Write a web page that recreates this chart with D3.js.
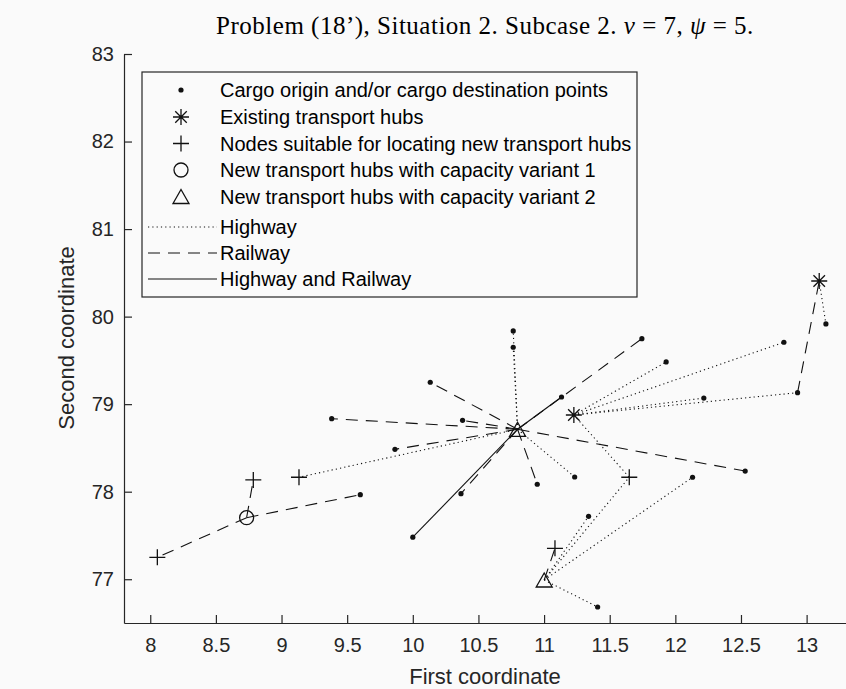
<!DOCTYPE html>
<html>
<head>
<meta charset="utf-8">
<script src="https://cdn.jsdelivr.net/npm/d3@7"></script>
<style>
  html, body { margin: 0; padding: 0; background: #fafafa; }
  svg { display: block; }
  .tick text { font-family: "Liberation Sans", Arial, sans-serif; font-size: 20px; fill: #262626; }
</style>
</head>
<body>
<div id="chart"></div>
<script>
// Problem (18'), situation 2, subcase 2 - transport network layout
const width = 846, height = 689;

// cargo origin / destination points
const cargoX = [10.765, 10.765, 10.133, 9.382, 10.379, 9.864, 11.133, 9.6, 10.948, 11.233, 10.367,
                12.131, 11.339, 11.408, 11.745, 11.93, 12.827, 13.147, 12.931, 12.217, 12.532, 10.0];
const cargoY = [79.836, 79.65, 79.25, 78.834, 78.815, 78.484, 79.082, 77.966, 78.085, 78.168, 77.977,
                78.165, 77.719, 76.683, 79.748, 79.482, 79.707, 79.916, 79.131, 79.07, 78.236, 77.48];

// existing hubs (asterisks)
const hubX = [11.227, 13.096];
const hubY = [78.876, 80.407];

// nodes suitable for new hubs (plus)
const nodeX = [8.054, 8.785, 9.133, 11.649, 11.083];
const nodeY = [77.25, 78.134, 78.165, 78.165, 77.353];

// new hubs, capacity variant 1 (circle) and variant 2 (triangle)
const newHub1X = [8.734];
const newHub1Y = [77.703];
const newHub2X = [10.798, 11.001];
const newHub2Y = [78.713, 76.991];

// links [x1, y1, x2, y2]
const highway = [
  [10.798, 78.713, 10.765, 79.836],
  [10.798, 78.713, 10.765, 79.65],
  [10.798, 78.713, 9.133, 78.165],
  [10.798, 78.713, 11.233, 78.168],
  [11.227, 78.876, 11.93, 79.482],
  [11.227, 78.876, 12.827, 79.707],
  [11.227, 78.876, 12.217, 79.07],
  [11.227, 78.876, 12.931, 79.131],
  [11.227, 78.876, 11.649, 78.165],
  [13.096, 80.407, 13.147, 79.916],
  [11.001, 76.991, 11.339, 77.719],
  [11.001, 76.991, 11.649, 78.165],
  [11.001, 76.991, 12.131, 78.165],
  [11.001, 76.991, 11.408, 76.683]
];
const railway = [
  [10.798, 78.713, 9.382, 78.834],
  [10.798, 78.713, 10.133, 79.25],
  [10.798, 78.713, 10.379, 78.815],
  [10.798, 78.713, 9.864, 78.484],
  [10.798, 78.713, 10.948, 78.085],
  [10.798, 78.713, 10.367, 77.977],
  [10.798, 78.713, 11.745, 79.748],
  [10.798, 78.713, 12.532, 78.236],
  [12.931, 79.131, 13.096, 80.407],
  [8.734, 77.703, 8.054, 77.25],
  [8.734, 77.703, 9.6, 77.966],
  [8.734, 77.703, 8.785, 78.134],
  [11.001, 76.991, 11.083, 77.353]
];
const bothWays = [
  [10.798, 78.713, 10.0, 77.48],
  [10.798, 78.713, 11.133, 79.082]
];

const xTicks = d3.range(8, 13.01, 0.5);
const yTicks = [77, 78, 79, 80, 81, 82, 83];

const legendLabels = [
  "Cargo origin and/or cargo destination points",
  "Existing transport hubs",
  "Nodes suitable for locating new transport hubs",
  "New transport hubs with capacity variant 1",
  "New transport hubs with capacity variant 2",
  "Highway",
  "Railway",
  "Highway and Railway"
];

const ink = "#111";
const axisCol = "#262626";
const dotted = "1.2,3.1";
const dashed = "12,8";

const svg = d3.select("#chart").append("svg").attr("width", width).attr("height", height);

const x = d3.scaleLinear().domain([7.8, 13.3]).range([124, 846]);
const y = d3.scaleLinear().domain([76.5, 83]).range([623, 54]);

// axes (ticks point inwards, no box)
svg.append("g").attr("transform", `translate(0,623)`)
  .call(d3.axisBottom(x).tickValues(xTicks).tickSizeInner(-8).tickSizeOuter(0).tickPadding(15).tickFormat(d => d))
  .call(g => g.selectAll("path,line").attr("stroke", axisCol).attr("stroke-width", 1.2));
svg.append("g").attr("transform", `translate(124,0)`)
  .call(d3.axisLeft(y).tickValues(yTicks).tickSizeInner(-8).tickSizeOuter(0).tickPadding(10).tickFormat(d => d))
  .call(g => g.selectAll("path,line").attr("stroke", axisCol).attr("stroke-width", 1.2));

svg.append("text").attr("x", 485).attr("y", 684).attr("text-anchor", "middle")
  .style("font-family", "Liberation Sans, Arial, sans-serif").style("font-size", "22px").attr("fill", axisCol)
  .text("First coordinate");
svg.append("text").attr("transform", "translate(74,338) rotate(-90)").attr("text-anchor", "middle")
  .style("font-family", "Liberation Sans, Arial, sans-serif").style("font-size", "22px").attr("fill", axisCol)
  .text("Second coordinate");

const title = svg.append("text").attr("x", 485).attr("y", 34).attr("text-anchor", "middle")
  .style("font-family", "Liberation Serif, serif").style("font-size", "25px")
  .style("letter-spacing", "0.5px").attr("fill", "#000");
title.append("tspan").text("Problem (18’), Situation 2. Subcase 2. ");
title.append("tspan").style("font-style", "italic").text("ν");
title.append("tspan").text(" = 7, ");
title.append("tspan").style("font-style", "italic").text("ψ");
title.append("tspan").text(" = 5.");

// links
function drawLinks(data, dash) {
  svg.append("g").selectAll("line").data(data).join("line")
    .attr("x1", d => x(d[0])).attr("y1", d => y(d[1]))
    .attr("x2", d => x(d[2])).attr("y2", d => y(d[3]))
    .attr("stroke", ink).attr("stroke-width", 1.1)
    .attr("stroke-dasharray", dash);
}
drawLinks(highway, dotted);
drawLinks(railway, dashed);
drawLinks(bothWays, null);

// marker shapes
const plusPath = s => `M${-s},0H${s}M0,${-s}V${s}`;
const starPath = s => { const k = s * 0.72; return `M${-s},0H${s}M0,${-s}V${s}M${-k},${-k}L${k},${k}M${-k},${k}L${k},${-k}`; };
const triPath = (w, h) => `M0,${-h}L${w},${h}L${-w},${h}Z`;

function markers(xs, ys, draw) {
  const g = svg.append("g");
  xs.forEach((v, i) => draw(g.append("g").attr("transform", `translate(${x(v)},${y(ys[i])})`)));
}
const dot = g => g.append("circle").attr("r", 2.6).attr("fill", ink);
const star = g => g.append("path").attr("d", starPath(8)).attr("stroke", ink).attr("stroke-width", 1.3).attr("fill", "none");
const plus = g => g.append("path").attr("d", plusPath(8)).attr("stroke", ink).attr("stroke-width", 1.3).attr("fill", "none");
const ring = g => g.append("circle").attr("r", 7).attr("stroke", ink).attr("stroke-width", 1.3).attr("fill", "none");
const tri = g => g.append("path").attr("d", triPath(8, 7)).attr("stroke", ink).attr("stroke-width", 1.3).attr("fill", "none");

markers(cargoX, cargoY, dot);
markers(hubX, hubY, star);
markers(nodeX, nodeY, plus);
markers(newHub1X, newHub1Y, ring);
markers(newHub2X, newHub2Y, tri);

// legend
const leg = svg.append("g");
leg.append("rect").attr("x", 142).attr("y", 72).attr("width", 495).attr("height", 225)
  .attr("fill", "#fafafa").attr("stroke", axisCol).attr("stroke-width", 1.2);
const rowY = [90, 117, 143.5, 170, 196.5, 227, 253, 279];
const legDraw = [dot, star, plus, ring, tri];
legendLabels.forEach((lab, i) => {
  const cy = rowY[i];
  if (i < 5) {
    legDraw[i](leg.append("g").attr("transform", `translate(181,${cy})`));
  } else {
    leg.append("line").attr("x1", 148).attr("x2", 217).attr("y1", cy).attr("y2", cy)
      .attr("stroke", ink).attr("stroke-width", 1.1)
      .attr("stroke-dasharray", i === 5 ? dotted : i === 6 ? dashed : null);
  }
  leg.append("text").attr("x", 220).attr("y", cy).attr("dy", "0.35em")
    .style("font-family", "Liberation Sans, Arial, sans-serif").style("font-size", "20px").attr("fill", "#000")
    .text(lab);
});
</script>
</body>
</html>
